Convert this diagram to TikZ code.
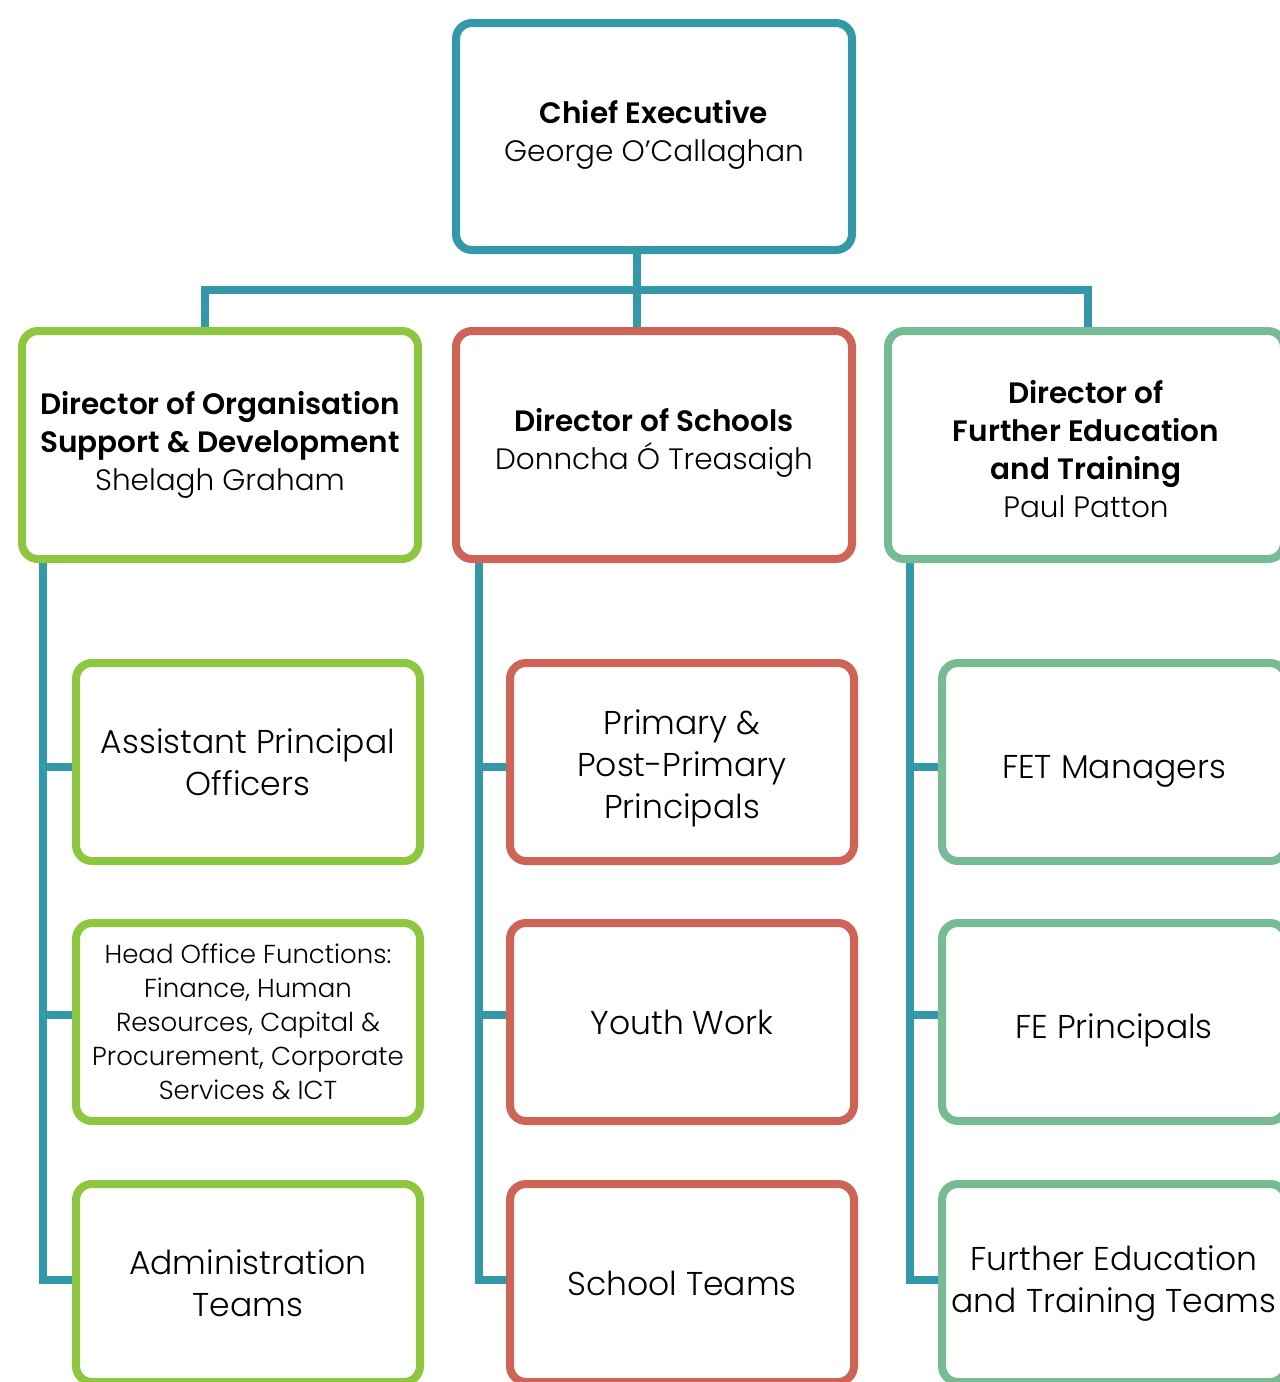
\documentclass[tikz,border=0pt]{standalone}
\usepackage{fontspec}
\setmainfont{Poppins}[UprightFont=* Light, BoldFont=* SemiBold]
\usetikzlibrary{backgrounds}
\definecolor{cteal}{HTML}{3399A8}
\definecolor{cgreen}{HTML}{8DC63F}
\definecolor{cred}{HTML}{CD6455}
\definecolor{cmint}{HTML}{76BB94}
\newcommand{\lift}[1]{\rule{0pt}{#1pt}}
\tikzset{
  boxbase/.style={draw, line width=8pt, rounded corners=16pt, fill=white, align=center, inner sep=0pt, text=black},
  wh/.style 2 args={minimum width=#1pt, minimum height=#2pt},
  gbox/.style={boxbase, draw=cgreen},
  rbox/.style={boxbase, draw=cred},
  mbox/.style={boxbase, draw=cmint},
  tbox/.style={boxbase, draw=cteal},
  conn/.style={draw=cteal, line width=8pt},
  ttl/.style={font=\fontsize{29.5}{38}\selectfont},
  sub/.style={font=\fontsize{33}{42}\selectfont},
  small/.style={font=\fontsize{26}{34}\selectfont}
}
\begin{document}
\begin{tikzpicture}[x=1pt,y=-1pt]
\useasboundingbox (0,0) rectangle (1280,1382);
\clip (0,0) rectangle (1280,1382);
% top
\node[tbox, wh={396}{227}, ttl] (ceo) at (654,136.5) {\textbf{Chief Executive}\\George O'Callaghan\\[-27pt]};
% row 2
\node[gbox, wh={396}{228}, ttl] (dL) at (220,445) {\textbf{Director of Organisation}\\\textbf{Support \& Development}\\Shelagh Graham};
\node[rbox, wh={396}{228}, ttl] (dM) at (654,445) {\textbf{Director of Schools}\\Donncha Ó Treasaigh\\[-26pt]};
\node[mbox, wh={396}{228}, ttl] (dR) at (1086,445) {\lift{31}\textbf{Director of}\\\textbf{Further Education}\\\textbf{and Training}\\Paul Patton};
% row 3-5 left
\node[gbox, wh={344}{198}, sub] (L3) at (248,762) {Assistant Principal\\Officers};
\node[gbox, wh={344}{198}, small] (L4) at (248,1022) {Head Office Functions:\\Finance, Human\\Resources, Capital \&\\Procurement, Corporate\\Services \& ICT};
\node[gbox, wh={344}{198}, sub] (L5) at (248,1283) {Administration\\Teams};
% middle
\node[rbox, wh={344}{198}, sub] (M3) at (682,762) {\lift{38}Primary \&\\Post-Primary\\Principals};
\node[rbox, wh={344}{198}, sub] (M4) at (682,1022) {Youth Work};
\node[rbox, wh={344}{198}, sub] (M5) at (682,1283) {School Teams};
% right
\node[mbox, wh={344}{198}, sub] (R3) at (1114,762) {\lift{42}FET Managers};
\node[mbox, wh={344}{198}, sub] (R4) at (1114,1022) {\lift{42}FE Principals};
\node[mbox, wh={344}{198}, sub] (R5) at (1114,1283) {Further Education\\and Training Teams};
% connectors
\coordinate (xj) at (637,290);
\coordinate (xl) at (205,0);
\coordinate (xr) at (1088,0);
\coordinate (tl) at (43,0);
\coordinate (tm) at (479,0);
\coordinate (tr) at (910,0);
\begin{pgfonlayer}{background}
\draw[conn] (ceo.south -| xj) -- (dM.north -| xj);
\draw[conn] (dL.north -| xl) |- (xj) -| (dR.north -| xr);
\foreach \c/\t in {L/tl, M/tm, R/tr}{
  \coordinate (b3) at ([yshift=-5pt]\c3.west);
  \coordinate (b4) at ([yshift=7pt]\c4.west);
  \coordinate (b5) at ([yshift=3pt]\c5.west);
  \draw[conn] (d\c.south -| \t) |- (b5);
  \draw[conn] (b3 -| \t) -- (b3);
  \draw[conn] (b4 -| \t) -- (b4);
}
\end{pgfonlayer}
\end{tikzpicture}
\end{document}
